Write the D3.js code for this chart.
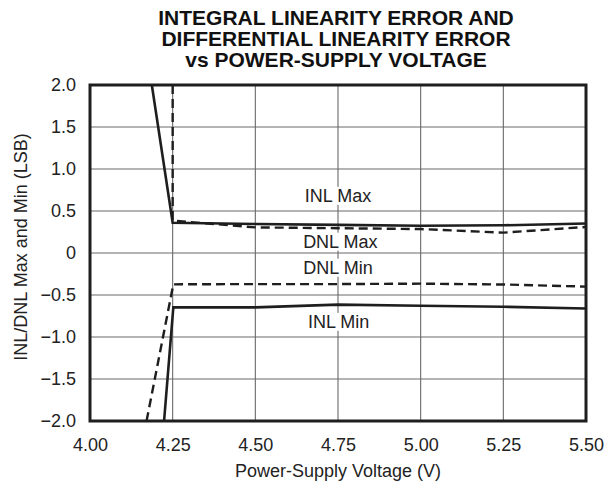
<!DOCTYPE html>
<html>
<head>
<meta charset="utf-8">
<script src="https://cdn.jsdelivr.net/npm/d3@7"></script>
<style>
  html, body { margin: 0; padding: 0; background: #fff; }
  svg text { font-family: "Liberation Sans", Arial, Helvetica, sans-serif; fill: #222; }
</style>
</head>
<body>
<svg id="chart" width="616" height="485"></svg>
<script>
// ---- data ----
const titleLines = ["INTEGRAL LINEARITY ERROR AND", "DIFFERENTIAL LINEARITY ERROR", "vs POWER-SUPPLY VOLTAGE"];
const xTicks = [4.00, 4.25, 4.50, 4.75, 5.00, 5.25, 5.50];
const yTicks = [2.0, 1.5, 1.0, 0.5, 0, -0.5, -1.0, -1.5, -2.0];
const xTitle = "Power-Supply Voltage (V)";
const yTitle = "INL/DNL Max and Min (LSB)";

const inlMax = [[4.187, 2.0], [4.25, 0.36], [4.5, 0.345], [4.75, 0.335], [5.0, 0.325], [5.25, 0.33], [5.5, 0.352]];
const dnlMax = [[4.25, 2.0], [4.25, 0.385], [4.5, 0.305], [4.75, 0.295], [5.0, 0.285], [5.25, 0.242], [5.5, 0.31]];
const dnlMin = [[4.171, -2.0], [4.252, -0.373], [4.5, -0.37], [4.75, -0.37], [5.0, -0.365], [5.25, -0.375], [5.5, -0.40]];
const inlMin = [[4.224, -2.0], [4.252, -0.647], [4.5, -0.647], [4.75, -0.615], [5.0, -0.628], [5.25, -0.64], [5.5, -0.66]];

const seriesList = [
  { name: "INL Max", data: inlMax, dashed: false },
  { name: "DNL Max", data: dnlMax, dashed: true },
  { name: "DNL Min", data: dnlMin, dashed: true },
  { name: "INL Min", data: inlMin, dashed: false }
];
const labels = [
  { text: "INL Max", x: 4.75, y: 0.68 },
  { text: "DNL Max", x: 4.757, y: 0.135 },
  { text: "DNL Min", x: 4.75, y: -0.175 },
  { text: "INL Min", x: 4.752, y: -0.82 }
];

// ---- layout ----
const svg = d3.select("#chart");
const L = 90, R = 586, T = 85, B = 421;
const x = d3.scaleLinear().domain([4.0, 5.5]).range([L, R]);
const y = d3.scaleLinear().domain([-2, 2]).range([B, T]);

// title
svg.append("g").selectAll("text").data(titleLines).enter().append("text")
  .attr("x", 336).attr("y", (d, i) => 25 + i * 20.8)
  .attr("text-anchor", "middle")
  .style("font-size", "21px").style("font-weight", "bold").style("fill", "#111")
  .text(d => d);

// grid
const grid = svg.append("g");
grid.selectAll("line.v").data(xTicks.slice(1, -1)).enter().append("line")
  .attr("x1", d => x(d)).attr("x2", d => x(d)).attr("y1", T).attr("y2", B)
  .attr("stroke", "#6a6a6a").attr("stroke-width", 1.1);
grid.selectAll("line.h").data(yTicks.slice(1, -1)).enter().append("line")
  .attr("x1", L).attr("x2", R).attr("y1", d => y(d)).attr("y2", d => y(d))
  .attr("stroke", "#6a6a6a").attr("stroke-width", 1.1);

// axes (labels only)
const xAxis = d3.axisBottom(x).tickValues(xTicks).tickFormat(d3.format(".2f")).tickSize(0).tickPadding(17);
const gx = svg.append("g").attr("transform", `translate(0,${B})`).call(xAxis);
gx.select(".domain").remove();
gx.selectAll("text").style("font-size", "18px").style("font-family", "Liberation Sans, Arial, sans-serif").attr("fill", "#222");

const yFmt = d => d === 0 ? "0" : (d < 0 ? "\u2212" + d3.format(".1f")(-d) : d3.format(".1f")(d));
const yAxis = d3.axisLeft(y).tickValues(yTicks).tickFormat(yFmt).tickSize(0).tickPadding(14);
const gy = svg.append("g").attr("transform", `translate(${L},0)`).call(yAxis);
gy.select(".domain").remove();
gy.selectAll("text").style("font-size", "18px").style("font-family", "Liberation Sans, Arial, sans-serif").attr("fill", "#222");

// axis titles
svg.append("text").attr("x", 338).attr("y", 477).attr("text-anchor", "middle")
  .style("font-size", "18px").text(xTitle);
svg.append("text").attr("transform", "translate(27,247) rotate(-90)").attr("text-anchor", "middle")
  .style("font-size", "18px").text(yTitle);

// clip
svg.append("clipPath").attr("id", "clip").append("rect")
  .attr("x", L).attr("y", T).attr("width", R - L).attr("height", B - T);

// labels with white background
const lg = svg.append("g");
labels.forEach(lb => {
  const t = lg.append("text").attr("x", x(lb.x)).attr("y", y(lb.y))
    .attr("text-anchor", "middle").attr("dominant-baseline", "central")
    .style("font-size", "18px").text(lb.text);
  const bb = t.node().getBBox();
  lg.insert("rect", "text").attr("x", bb.x - 3).attr("y", bb.y + 1).attr("width", bb.width + 6).attr("height", bb.height - 2)
    .attr("fill", "#fff");
});

// lines
const line = d3.line().x(d => x(d[0])).y(d => y(d[1]));
svg.append("g").attr("clip-path", "url(#clip)").selectAll("path").data(seriesList).enter().append("path")
  .attr("d", d => line(d.data))
  .attr("fill", "none").attr("stroke", "#1e1e1e")
  .attr("stroke-width", d => d.dashed ? 2.4 : 2.6)
  .attr("stroke-dasharray", d => d.dashed ? "9,5" : null)
  .attr("stroke-linejoin", "miter");

// frame
svg.append("rect").attr("x", L).attr("y", T).attr("width", R - L).attr("height", B - T)
  .attr("fill", "none").attr("stroke", "#1e1e1e").attr("stroke-width", 3);
</script>
</body>
</html>
